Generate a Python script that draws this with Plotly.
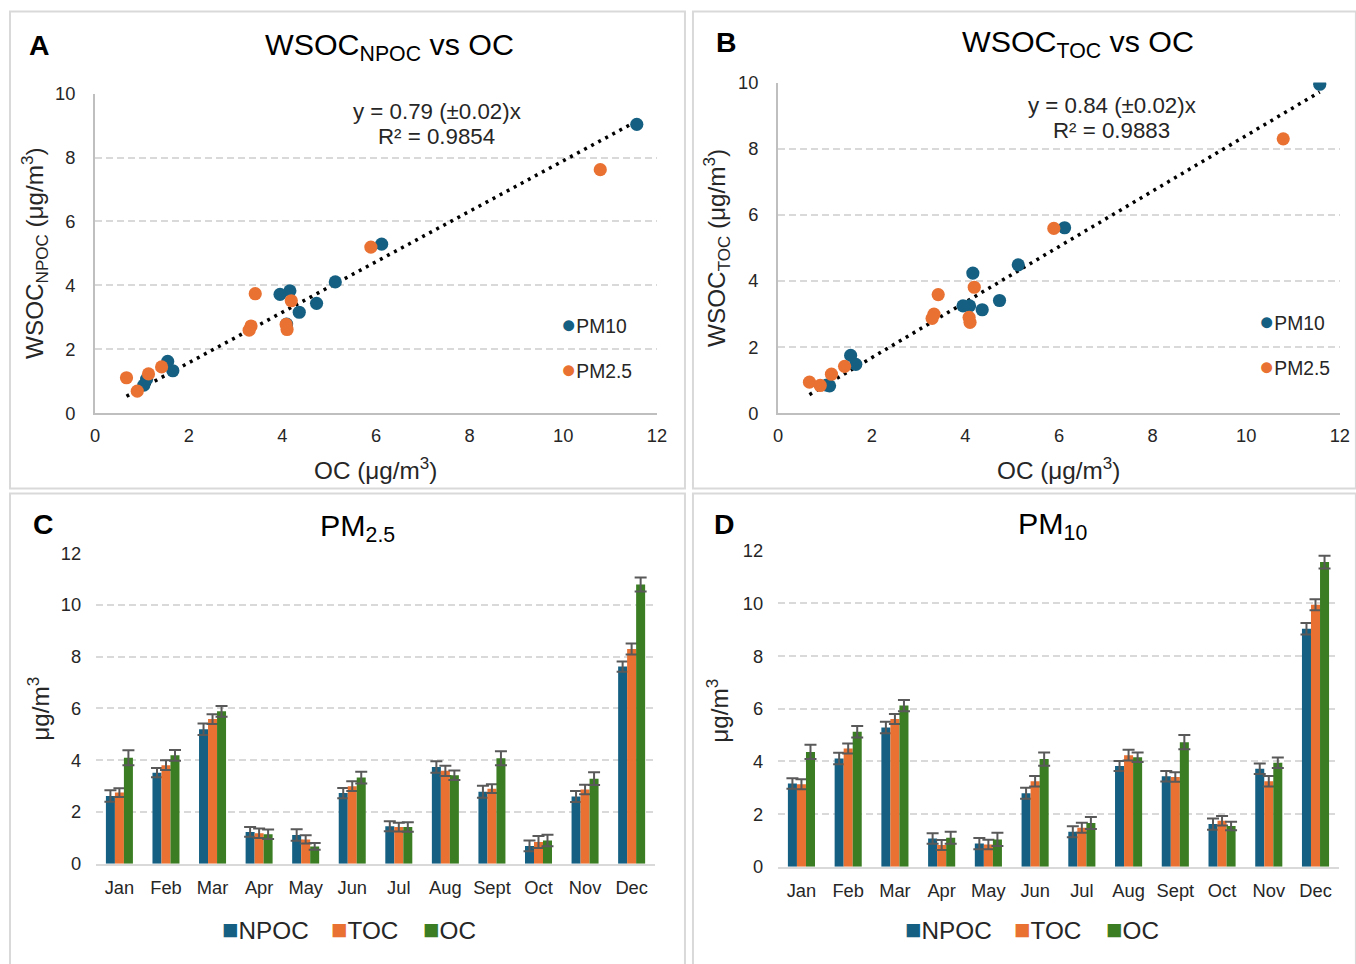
import plotly.graph_objects as go
import numpy as np

W, H = 1356, 964
# The page is photographed with a small body margin and then fitted back to 1356x964;
# positions below are given in final picture pixels and converted to figure fractions.
SX, SY, OFF = 1372 / 1356, 980 / 964, 8
AX, BX = 0.9992, -1.9   # measured residual fit in x
AY, BY = 0.9926, 3.7    # measured residual fit in y
K = 1.014  # font / marker compensation for that fit
FONT = "Liberation Sans, Arial, sans-serif"
TXT = "#262626"

months = ["Jan", "Feb", "Mar", "Apr", "May", "Jun", "Jul", "Aug", "Sept", "Oct", "Nov", "Dec"]

# PM2.5 monthly means (µg/m3) and standard errors
pm25_npoc = [2.62, 3.52, 5.20, 1.23, 1.11, 2.73, 1.45, 3.74, 2.78, 0.69, 2.60, 7.62]
pm25_npoc_err = [0.22, 0.18, 0.22, 0.19, 0.22, 0.20, 0.19, 0.22, 0.23, 0.21, 0.21, 0.20]
pm25_toc = [2.75, 3.81, 5.59, 1.18, 0.94, 3.00, 1.42, 3.59, 2.90, 0.84, 2.87, 8.30]
pm25_toc_err = [0.17, 0.19, 0.19, 0.18, 0.16, 0.19, 0.17, 0.20, 0.17, 0.23, 0.18, 0.21]
pm25_oc = [4.10, 4.19, 5.89, 1.14, 0.67, 3.33, 1.42, 3.42, 4.08, 0.90, 3.29, 10.79]
pm25_oc_err = [0.29, 0.21, 0.21, 0.18, 0.13, 0.23, 0.18, 0.18, 0.27, 0.22, 0.25, 0.27]

# PM10 monthly means (µg/m3) and standard errors
pm10_npoc = [3.16, 4.11, 5.29, 1.07, 0.88, 2.79, 1.33, 3.83, 3.44, 1.62, 3.72, 9.04]
pm10_npoc_err = [0.20, 0.22, 0.22, 0.20, 0.21, 0.21, 0.21, 0.19, 0.20, 0.21, 0.20, 0.22]
pm10_toc = [3.13, 4.49, 5.61, 0.83, 0.85, 3.25, 1.48, 4.24, 3.41, 1.75, 3.25, 9.95]
pm10_toc_err = [0.19, 0.19, 0.19, 0.19, 0.18, 0.20, 0.19, 0.20, 0.18, 0.18, 0.20, 0.21]
pm10_oc = [4.36, 5.13, 6.12, 1.10, 1.04, 4.09, 1.66, 4.16, 4.73, 1.55, 3.95, 11.57]
pm10_oc_err = [0.27, 0.22, 0.21, 0.23, 0.25, 0.25, 0.23, 0.18, 0.27, 0.16, 0.20, 0.24]

# regression (through origin) results
slope_npoc, slope_npoc_err, r2_npoc = 0.79, 0.02, 0.9854
slope_toc, slope_toc_err, r2_toc = 0.84, 0.02, 0.9883

C_BLUE = "#156082"
C_ORANGE = "#E97132"
C_GREEN = "#3B7D23"
GRID = "#d9d9d9"


def px(x):
    x = (x - BX) / AX
    return (x * SX - OFF) / W


def py(y):
    y = (y - BY) / AY
    return 1 - (y * SY - OFF) / H


def fs(s):
    return round(s * K, 1)


fig = go.Figure()

# ---------- scatter panels ----------
all_oc = np.array(pm10_oc + pm25_oc)
xfit = np.array([all_oc.min(), all_oc.max()])

for (xa, ya, npy10, npy25, slope) in [
    ("x", "y", pm10_npoc, pm25_npoc, slope_npoc),
    ("x2", "y2", pm10_toc, pm25_toc, slope_toc),
]:
    fig.add_trace(go.Scatter(x=xfit, y=slope * xfit, mode="lines",
                             line=dict(color="black", width=3.5, dash="3px,5px"),
                             xaxis=xa, yaxis=ya, showlegend=False, hoverinfo="skip"))
    fig.add_trace(go.Scatter(x=pm10_oc, y=npy10, mode="markers", name="PM10",
                             marker=dict(color=C_BLUE, size=fs(13)), xaxis=xa, yaxis=ya,
                             showlegend=False))
    fig.add_trace(go.Scatter(x=pm25_oc, y=npy25, mode="markers", name="PM2.5",
                             marker=dict(color=C_ORANGE, size=fs(13)), xaxis=xa, yaxis=ya,
                             showlegend=False))

# ---------- bar panels ----------
for (xa, ya, sets) in [
    ("x3", "y3", [(pm25_npoc, pm25_npoc_err, "NPOC", C_BLUE),
                  (pm25_toc, pm25_toc_err, "TOC", C_ORANGE),
                  (pm25_oc, pm25_oc_err, "OC", C_GREEN)]),
    ("x4", "y4", [(pm10_npoc, pm10_npoc_err, "NPOC", C_BLUE),
                  (pm10_toc, pm10_toc_err, "TOC", C_ORANGE),
                  (pm10_oc, pm10_oc_err, "OC", C_GREEN)]),
]:
    for vals, errs, name, col in sets:
        fig.add_trace(go.Bar(x=months, y=vals, name=name, marker=dict(color=col, line=dict(width=0)),
                             error_y=dict(type="data", array=errs, visible=True, color="#595959",
                                          thickness=2, width=6),
                             xaxis=xa, yaxis=ya, showlegend=False))

tickfont = dict(family=FONT, size=fs(18), color=TXT)

common_y = dict(showgrid=True, gridcolor=GRID, gridwidth=2, griddash="7px,4px",
                zeroline=False, tickfont=tickfont, ticks="", ticklabelstandoff=14)

fig.update_layout(
    width=W, height=H, margin=dict(l=0, r=0, t=0, b=0),
    paper_bgcolor="white", plot_bgcolor="white",
    barmode="group", bargap=0.42, bargroupgap=0,
    font=dict(family=FONT, color=TXT),
    xaxis=dict(domain=[px(96), px(657)], range=[0, 12], dtick=2, anchor="y",
               showgrid=False, zeroline=False, showline=True, linecolor="#bfbfbf", linewidth=2,
               tickfont=tickfont, ticks="", ticklabelstandoff=5),
    yaxis=dict(domain=[py(413), py(94)], range=[0, 10], dtick=2, anchor="x",
               showline=True, linecolor="#bfbfbf", linewidth=2, **common_y),
    xaxis2=dict(domain=[px(778), px(1339)], range=[0, 12], dtick=2, anchor="y2",
                showgrid=False, zeroline=False, showline=True, linecolor="#bfbfbf", linewidth=2,
                tickfont=tickfont, ticks="", ticklabelstandoff=5),
    yaxis2=dict(domain=[py(413), py(83)], range=[0, 10], dtick=2, anchor="x2",
                showline=True, linecolor="#bfbfbf", linewidth=2, **common_y),
    xaxis3=dict(domain=[px(97), px(655)], anchor="y3", showgrid=False, zeroline=False,
                showline=True, linecolor=GRID, linewidth=2, tickfont=tickfont,
                ticks="", ticklabelstandoff=6),
    yaxis3=dict(domain=[py(862.7), py(552.7)], range=[0, 12], dtick=2, anchor="x3",
                showline=False, **common_y),
    xaxis4=dict(domain=[px(778), px(1338)], anchor="y4", showgrid=False, zeroline=False,
                showline=True, linecolor=GRID, linewidth=2, tickfont=tickfont,
                ticks="", ticklabelstandoff=6),
    yaxis4=dict(domain=[py(865.7), py(550.3)], range=[0, 12], dtick=2, anchor="x4",
                showline=False, **common_y),
)

# panel borders
for (x0, y0, x1, y1) in [(11, 12, 685, 488), (693, 12, 1355, 488), (11, 493, 685, 990), (693, 493, 1355, 990)]:
    fig.add_shape(type="rect", xref="paper", yref="paper", x0=px(x0), x1=px(x1), y0=py(y1), y1=py(y0),
                  line=dict(color=GRID, width=2), fillcolor="rgba(0,0,0,0)", layer="below")


def ann(text, x, y, size, xanchor="center", angle=0, bold=False, color=TXT):
    fig.add_annotation(text=f"<b>{text}</b>" if bold else text, x=px(x), y=py(y), xref="paper", yref="paper",
                       showarrow=False, xanchor=xanchor, yanchor="middle", textangle=angle,
                       font=dict(family=FONT, size=fs(size), color=color))


# panel letters
ann("A", 40, 45, 28, bold=True, color="black")
ann("B", 726, 42, 28, bold=True, color="black")
ann("C", 44, 524, 28, bold=True, color="black")
ann("D", 724, 524, 28, bold=True, color="black")

# titles
ann("WSOC<sub>NPOC</sub> vs OC", 390, 47, 30, color="black")
ann("WSOC<sub>TOC</sub> vs OC", 1077, 44, 30, color="black")
ann("PM<sub>2.5</sub>", 358, 527, 30, color="black")
ann("PM<sub>10</sub>", 1052, 525, 30, color="black")

# axis titles
ann("OC (μg/m<sup>3</sup>)", 376, 469, 24)
ann("OC (μg/m<sup>3</sup>)", 1058, 469, 24)
ann("WSOC<sub>NPOC</sub> (μg/m<sup>3</sup>)", 36, 253, 24, angle=-90)
ann("WSOC<sub>TOC</sub> (μg/m<sup>3</sup>)", 717, 248, 24, angle=-90)
ann("μg/m<sup>3</sup>", 40, 708, 24, angle=-90)
ann("μg/m<sup>3</sup>", 718, 710, 24, angle=-90)

# regression equations
ann(f"y = {slope_npoc:.2f} (±{slope_npoc_err:.2f})x", 437, 112, 22)
ann(f"R² = {r2_npoc:.4f}", 437, 137, 22)
ann(f"y = {slope_toc:.2f} (±{slope_toc_err:.2f})x", 1111, 106, 22)
ann(f"R² = {r2_toc:.4f}", 1111, 131, 22)

# scatter legends
for (lx, ly1, ly2) in [(559, 324, 369), (1256, 321, 366)]:
    ann(f"<span style='color:{C_BLUE};font-size:{fs(25)}px'>●</span>PM10", lx, ly1, 19, xanchor="left")
    ann(f"<span style='color:{C_ORANGE};font-size:{fs(25)}px'>●</span>PM2.5", lx, ly2, 19, xanchor="left")

# bar legends
for (x1, x2, x3) in [(221, 330, 421), (903, 1012, 1103)]:
    ann(f"<span style='color:{C_BLUE};font-size:{fs(27)}px'>■</span>NPOC", x1, 928, 24, xanchor="left")
    ann(f"<span style='color:{C_ORANGE};font-size:{fs(27)}px'>■</span>TOC", x2, 928, 24, xanchor="left")
    ann(f"<span style='color:{C_GREEN};font-size:{fs(27)}px'>■</span>OC", x3, 928, 24, xanchor="left")

fig.write_html("out.html")
